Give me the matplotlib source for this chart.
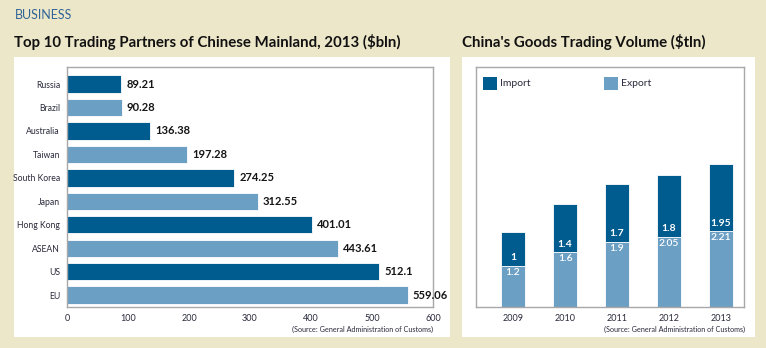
import matplotlib.pyplot as plt
from matplotlib.patches import Rectangle

# trading partners, 2013 ($bln)
partners = ["Russia", "Brazil", "Australia", "Taiwan", "South Korea",
            "Japan", "Hong Kong", "ASEAN", "US", "EU"]
partner_values = [89.21, 90.28, 136.38, 197.28, 274.25,
                  312.55, 401.01, 443.61, 512.1, 559.06]

# goods trading volume ($tln)
years = ["2009", "2010", "2011", "2012", "2013"]
exports = [1.2, 1.6, 1.9, 2.05, 2.21]
imports = [1, 1.4, 1.7, 1.8, 1.95]

DARK = "#005b8e"
LIGHT = "#6b9fc4"
BEIGE = "#ede7c9"
FRAME = "#a8a8a8"
TEXT = "#2a2a3c"
FONT = "Lato"

plt.rcParams["font.family"] = [FONT, "DejaVu Sans"]

W, H = 766, 348
fig = plt.figure(figsize=(W / 100, H / 100), dpi=100, facecolor=BEIGE)


def fx(px):
    return px / W


def fy(py):
    return 1 - py / H


# white panels behind each chart
for x0, x1 in [(14, 450), (462, 755)]:
    fig.patches.append(Rectangle((fx(x0), fy(337)), fx(x1 - x0), (337 - 57) / H,
                                 transform=fig.transFigure, facecolor="white",
                                 edgecolor="none", zorder=-1))

fig.text(fx(15), fy(15), "BUSINESS", fontsize=9, color="#2f6496", va="center")
fig.text(fx(14), fy(42), "Top 10 Trading Partners of Chinese Mainland, 2013 ($bln)",
         fontsize=10.8, fontweight="bold", color="#111111", va="center")
fig.text(fx(462), fy(42), "China's Goods Trading Volume ($tln)",
         fontsize=10.8, fontweight="bold", color="#111111", va="center")

# left: horizontal bars
ax1 = fig.add_axes([fx(67), fy(307), fx(433 - 67), (307 - 67) / H])
ypos = list(range(len(partners)))
colors = [DARK if i % 2 == 0 else LIGHT for i in ypos]
ax1.barh(ypos, partner_values, height=0.74, color=colors, edgecolor="white", linewidth=0.6)
for y, v in zip(ypos, partner_values):
    ax1.text(v + 8, y, f"{v:g}", va="center", ha="left", fontsize=8,
             fontweight="bold", color="#151515")
ax1.set_xlim(0, 600)
ax1.set_ylim(len(partners) - 1 + 0.51, -0.73)
ax1.set_yticks(ypos)
ax1.set_yticklabels(partners)
ax1.set_xticks(range(0, 601, 100))
ax1.tick_params(length=0, labelsize=6.5, colors=TEXT, pad=5)
ax1.tick_params(axis="y", labelsize=6.2)
for s in ax1.spines.values():
    s.set_color(FRAME)
    s.set_linewidth(1)
fig.text(fx(433), fy(329), "(Source: General Administration of Customs)",
         fontsize=5.2, ha="right", va="center", color=TEXT)

# right: stacked columns
ax2 = fig.add_axes([fx(476), fy(307), fx(744 - 476), (307 - 67) / H])
xpos = list(range(len(years)))
ax2.bar(xpos, exports, width=0.46, color=LIGHT, edgecolor="white", linewidth=0.6, label="Export")
ax2.bar(xpos, imports, width=0.46, bottom=exports, color=DARK, edgecolor="white",
        linewidth=0.6, label="Import")
for x, e, i in zip(xpos, exports, imports):
    ax2.text(x, e + 0.1, f"{i:g}", ha="center", va="bottom", fontsize=7.5,
             fontweight="bold", color="white")
    ax2.text(x, e - 0.06, f"{e:g}", ha="center", va="top", fontsize=7.5,
             fontweight="semibold", color="white")
ax2.set_xlim(-0.71, 4.44)
ax2.set_ylim(0, 7.0)
ax2.set_xticks(xpos)
ax2.set_xticklabels(years)
ax2.set_yticks([])
ax2.tick_params(length=0, labelsize=6.5, colors=TEXT, pad=5)
for s in ax2.spines.values():
    s.set_color(FRAME)
    s.set_linewidth(1)

# legend squares along the top
for x0, c, lab in [(483, DARK, "Import"), (604, LIGHT, "Export")]:
    fig.patches.append(Rectangle((fx(x0), fy(90)), fx(14), 13 / H,
                                 transform=fig.transFigure, facecolor=c,
                                 edgecolor="none", zorder=3))
    fig.text(fx(x0 + 17), fy(84), lab, fontsize=7.5, color=TEXT, va="center")

fig.text(fx(745), fy(329), "(Source: General Administration of Customs)",
         fontsize=5.2, ha="right", va="center", color=TEXT)

fig.savefig("out.png", dpi=100, facecolor=BEIGE)
